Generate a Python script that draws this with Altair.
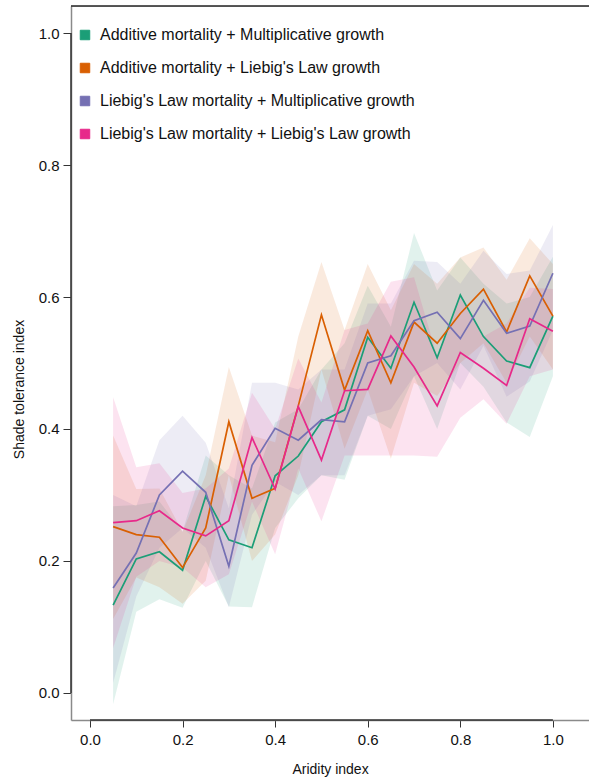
import altair as alt
import pandas as pd

# Aridity index sampled along the gradient
aridity = [0.05, 0.10, 0.15, 0.20, 0.25, 0.30, 0.35, 0.40, 0.45, 0.50,
           0.55, 0.60, 0.65, 0.70, 0.75, 0.80, 0.85, 0.90, 0.95, 1.00]

series_names = [
    "Additive mortality + Multiplicative growth",
    "Additive mortality + Liebig's Law growth",
    "Liebig's Law mortality + Multiplicative growth",
    "Liebig's Law mortality + Liebig's Law growth",
]
series_colors = ["#1b9e77", "#d95f02", "#7570b3", "#e7298a"]

# Mean shade tolerance index and its interval for each model
add_mult = [0.133, 0.203, 0.214, 0.186, 0.298, 0.232, 0.220, 0.329, 0.359, 0.411,
            0.429, 0.539, 0.492, 0.592, 0.508, 0.603, 0.540, 0.503, 0.493, 0.571]
add_mult_lo = [-0.017, 0.123, 0.142, 0.129, 0.200, 0.131, 0.130, 0.250, 0.295, 0.330,
               0.323, 0.420, 0.400, 0.480, 0.400, 0.500, 0.464, 0.410, 0.388, 0.480]
add_mult_hi = [0.283, 0.285, 0.290, 0.245, 0.360, 0.330, 0.310, 0.410, 0.430, 0.490,
               0.530, 0.617, 0.555, 0.697, 0.610, 0.660, 0.620, 0.590, 0.600, 0.661]

add_lieb = [0.252, 0.240, 0.236, 0.190, 0.250, 0.411, 0.295, 0.310, 0.435, 0.573,
            0.459, 0.549, 0.470, 0.562, 0.530, 0.575, 0.612, 0.547, 0.632, 0.571]
add_lieb_lo = [0.112, 0.175, 0.160, 0.135, 0.170, 0.330, 0.200, 0.240, 0.330, 0.490,
               0.370, 0.460, 0.355, 0.470, 0.450, 0.500, 0.530, 0.470, 0.540, 0.490]
add_lieb_hi = [0.390, 0.309, 0.310, 0.244, 0.330, 0.494, 0.390, 0.380, 0.540, 0.653,
               0.550, 0.650, 0.580, 0.650, 0.620, 0.660, 0.675, 0.626, 0.689, 0.650]

lieb_mult = [0.159, 0.212, 0.300, 0.336, 0.304, 0.192, 0.345, 0.401, 0.383, 0.414,
             0.411, 0.500, 0.511, 0.564, 0.577, 0.537, 0.595, 0.545, 0.556, 0.636]
lieb_mult_lo = [0.015, 0.146, 0.220, 0.250, 0.220, 0.130, 0.270, 0.320, 0.300, 0.330,
                0.330, 0.420, 0.430, 0.480, 0.500, 0.460, 0.526, 0.449, 0.472, 0.550]
lieb_mult_hi = [0.300, 0.283, 0.383, 0.420, 0.379, 0.280, 0.470, 0.470, 0.460, 0.490,
                0.490, 0.590, 0.590, 0.655, 0.653, 0.620, 0.670, 0.635, 0.640, 0.709]

lieb_lieb = [0.258, 0.261, 0.276, 0.250, 0.238, 0.261, 0.387, 0.309, 0.434, 0.353,
             0.458, 0.460, 0.541, 0.494, 0.435, 0.516, 0.492, 0.466, 0.567, 0.548]
lieb_lieb_lo = [0.068, 0.176, 0.200, 0.190, 0.160, 0.180, 0.290, 0.210, 0.340, 0.260,
                0.360, 0.360, 0.360, 0.360, 0.358, 0.417, 0.445, 0.408, 0.480, 0.490]
lieb_lieb_hi = [0.448, 0.342, 0.348, 0.303, 0.310, 0.340, 0.455, 0.400, 0.507, 0.440,
                0.550, 0.560, 0.623, 0.630, 0.510, 0.600, 0.540, 0.560, 0.614, 0.612]

x_ticks = [0.0, 0.2, 0.4, 0.6, 0.8, 1.0]
y_ticks = [0.0, 0.2, 0.4, 0.6, 0.8, 1.0]

means = [add_mult, add_lieb, lieb_mult, lieb_lieb]
lows = [add_mult_lo, add_lieb_lo, lieb_mult_lo, lieb_lieb_lo]
highs = [add_mult_hi, add_lieb_hi, lieb_mult_hi, lieb_lieb_hi]

rows = []
for k, name in enumerate(series_names):
    for x, m, lo, hi in zip(aridity, means[k], lows[k], highs[k]):
        rows.append({"aridity": x, "model": name, "order": k,
                     "tol": m, "lo": lo, "hi": hi})
df = pd.DataFrame(rows)

W, H = 518, 714
FONT = "Liberation Sans"
AXIS_COLOR = "#333333"
FRAME_COLOR = "#8a8a8a"

x_scale = alt.Scale(domain=[-0.041, 1.078], nice=False, zero=False)
y_scale = alt.Scale(domain=[-0.041, 1.041], nice=False, zero=False)
color_scale = alt.Scale(domain=series_names, range=series_colors)

x_axis = alt.Axis(title="Aridity index", values=x_ticks, format=".1f", grid=False,
                  domainColor=FRAME_COLOR, domainWidth=1.5, tickColor=AXIS_COLOR,
                  tickSize=7, tickWidth=1, labelFontSize=15, labelPadding=5,
                  labelColor="#111", labelFont=FONT, titleFont=FONT,
                  titleFontSize=14, titleFontWeight="normal", titleColor="#111",
                  titlePadding=15, labelFlush=False)
y_axis = alt.Axis(title="Shade tolerance index", values=y_ticks, format=".1f",
                  grid=False, domainColor=FRAME_COLOR, domainWidth=1.5,
                  tickColor=AXIS_COLOR, tickSize=8, tickWidth=1, labelFontSize=15,
                  labelPadding=4, labelColor="#111", labelFont=FONT, titleFont=FONT,
                  titleFontSize=14, titleFontWeight="normal", titleColor="#111",
                  titlePadding=12, titleY=383, labelFlush=False)

base = alt.Chart(df)

bands = base.mark_area(opacity=0.13, interpolate="linear").encode(
    x=alt.X("aridity:Q", scale=x_scale, axis=x_axis),
    y=alt.Y("lo:Q", scale=y_scale, axis=y_axis),
    y2="hi:Q",
    fill=alt.Fill("model:N", scale=color_scale, sort=series_names,
                  legend=alt.Legend(title=None, orient="none", legendX=6,
                                    legendY=21, symbolType="square",
                                    symbolSize=90, symbolOpacity=1,
                                    symbolStrokeColor="#333333",
                                    symbolStrokeWidth=1, labelFontSize=16,
                                    labelFont=FONT, labelColor="#111",
                                    labelOffset=7, rowPadding=17,
                                    labelLimit=500, padding=0)),
    detail="model:N",
)

lines = base.mark_line(strokeWidth=1.7).encode(
    x=alt.X("aridity:Q", scale=x_scale),
    y=alt.Y("tol:Q", scale=y_scale),
    stroke=alt.Stroke("model:N", scale=color_scale, legend=None),
    order="aridity:Q",
)

# Dark axis segments spanning the first to the last tick
tick_span = alt.Chart(alt.Data(values=[{}]))
x_span = tick_span.mark_rule(color=AXIS_COLOR, strokeWidth=1.5).encode(
    x=alt.datum(x_ticks[0], scale=x_scale), x2=alt.datum(x_ticks[-1]),
    y=alt.value(H))
y_span = tick_span.mark_rule(color=AXIS_COLOR, strokeWidth=1.5).encode(
    y=alt.datum(y_ticks[0], scale=y_scale), y2=alt.datum(y_ticks[-1]),
    x=alt.value(0))
top_edge = tick_span.mark_rule(color="#222222", strokeWidth=1.5).encode(
    y=alt.value(0), x=alt.value(0), x2=alt.value(W))

chart = alt.layer(bands, lines, x_span, y_span, top_edge).properties(
    width=W, height=H,
    padding={"left": 71, "top": 6, "right": 0, "bottom": 62},
    autosize=alt.AutoSizeParams(type="none"),
).configure_view(stroke=None).configure(background="white")

chart.save("out.html", embed_options={"renderer": "svg", "actions": False})
